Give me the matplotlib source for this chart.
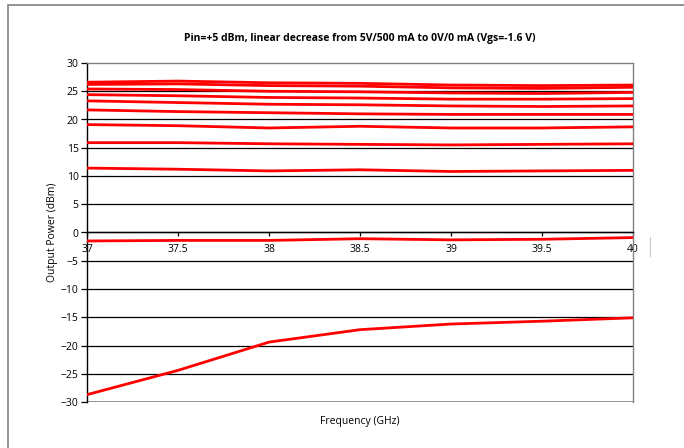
import matplotlib
matplotlib.use("Agg")
from matplotlib import pyplot as plt
from matplotlib.patches import Rectangle
from matplotlib.lines import Line2D

plt.rcParams['font.family'] = ['Open Sans', 'DejaVu Sans']

freq = [37, 37.5, 38, 38.5, 39, 39.5, 40]

# output power (dBm), one list per bias step
p1 = [26.6, 26.8, 26.5, 26.4, 26.1, 26.0, 26.1]
p2 = [26.2, 26.3, 26.0, 25.9, 25.6, 25.5, 25.7]
p3 = [25.4, 25.3, 25.0, 24.9, 24.7, 24.6, 24.8]
p4 = [24.4, 24.2, 23.9, 23.8, 23.6, 23.6, 23.7]
p5 = [23.3, 23.0, 22.7, 22.6, 22.4, 22.3, 22.4]
p6 = [21.7, 21.4, 21.2, 21.0, 20.9, 20.9, 20.9]
p7 = [19.1, 18.9, 18.5, 18.8, 18.5, 18.5, 18.7]
p8 = [15.9, 15.9, 15.7, 15.6, 15.5, 15.6, 15.7]
p9 = [11.4, 11.2, 10.9, 11.1, 10.8, 10.9, 11.0]
p10 = [-1.5, -1.4, -1.4, -1.1, -1.3, -1.2, -0.9]
p11 = [-28.7, -24.4, -19.4, -17.2, -16.2, -15.7, -15.1]
series = [p1, p2, p3, p4, p5, p6, p7, p8, p9, p10, p11]

x_ticks = [37, 37.5, 38, 38.5, 39, 39.5, 40]
x_labels = ["37", "37.5", "38", "38.5", "39", "39.5", "40"]
y_ticks = list(range(-30, 31, 5))

title = "Pin=+5 dBm, linear decrease from 5V/500 mA to 0V/0 mA (Vgs=-1.6 V)"

fig = plt.figure(figsize=(6.84, 4.48), dpi=100)
fig.patches.append(Rectangle((8 / 684, -0.05), 1.2, 1 - 5 / 448 + 0.05,
                             transform=fig.transFigure, fill=False,
                             edgecolor='#808080', linewidth=1.2))
fig.lines.append(Line2D([650 / 684, 650 / 684], [1 - 256 / 448, 1 - 237 / 448],
                        transform=fig.transFigure, color='#c8c8c8', linewidth=0.8))

ax = fig.add_axes([87 / 684, 1 - 402 / 448, 546 / 684, 339 / 448])

for yv in y_ticks:
    if -30 < yv < 30:
        ax.axhline(yv, color='black', linewidth=0.9, zorder=1)
ax.axhline(-30, color='#808080', linewidth=1.2, zorder=1)

for s in series:
    ax.plot(freq, s, color='#ff0000', linewidth=2.0, zorder=3)

ax.set_xlim(37, 40)
ax.set_ylim(-30, 30)
ax.set_xticks(x_ticks)
ax.set_xticklabels(x_labels)
ax.set_yticks(y_ticks)

ax.spines['bottom'].set_position(('data', 0))
ax.spines['bottom'].set_color('black')
ax.spines['left'].set_color('black')
ax.spines['top'].set_color('#808080')
ax.spines['right'].set_color('#808080')
for sp in ax.spines.values():
    sp.set_linewidth(1.0)

ax.tick_params(axis='both', direction='out', length=4, width=0.9,
               labelsize=7.5, pad=2)
ax.tick_params(axis='x', length=3, pad=5)

ax.set_title(title, fontsize=7.5, fontweight='bold', pad=16)
fig.text(52 / 684, 1 - 232 / 448, "Output Power (dBm)", fontsize=7.5,
         rotation=90, ha='center', va='center')
fig.text(360 / 684, 1 - 421 / 448, "Frequency (GHz)", fontsize=7.5,
         ha='center', va='center')

fig.savefig("out.png", dpi=100)
